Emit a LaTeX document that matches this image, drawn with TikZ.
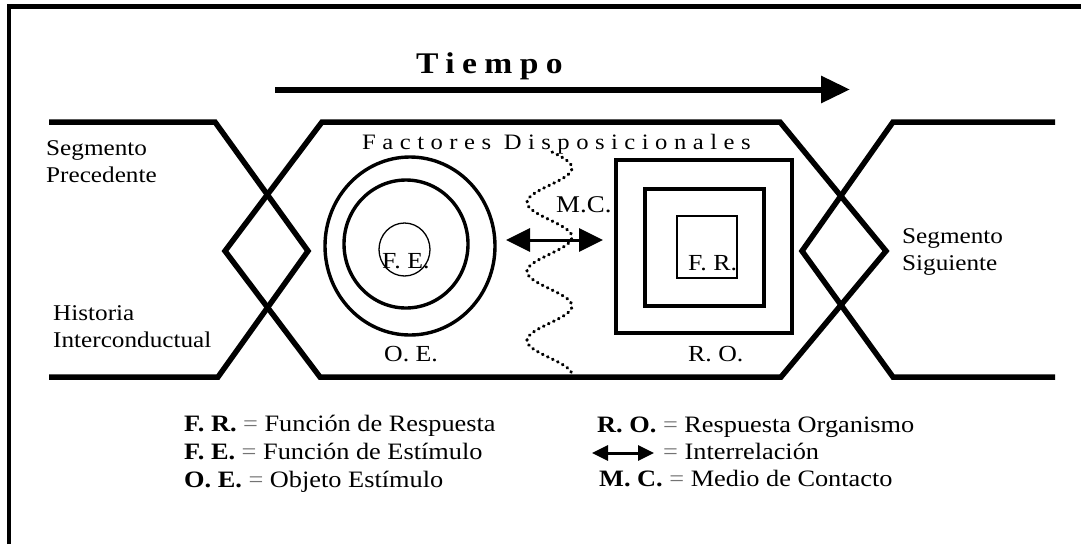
\documentclass[tikz,border=0pt]{standalone}
\usepackage{fontspec}
\setmainfont{Liberation Serif}[FakeStretch=1.12]
\newfontfamily\tiempofont{Liberation Serif}[FakeStretch=1.12,LetterSpace=24.7]
\newfontfamily\factfont{Liberation Serif}[FakeStretch=1.12,LetterSpace=29.5]
\usetikzlibrary{arrows.meta,shapes.geometric}
\newcommand{\eqsign}{\textcolor{black!55}{=}}
\begin{document}
\begin{tikzpicture}[x=1pt,y=-1pt,
  band/.style={line width=5.5pt,line join=miter},
  thickring/.style={draw,ellipse,line width=3.4pt,inner sep=0pt},
  thinring/.style={draw,ellipse,line width=1.3pt,inner sep=0pt},
  thickbox/.style={draw,rectangle,line width=4pt,inner sep=0pt},
  thinbox/.style={draw,rectangle,line width=1.3pt,inner sep=0pt},
  lbl/.style={anchor=base west,inner sep=0pt,font=\fontsize{22.5}{27}\selectfont},
  inlbl/.style={anchor=base west,inner sep=0pt,font=\fontsize{23}{27}\selectfont},
  leg/.style={anchor=base west,inner sep=0pt,font=\fontsize{23.5}{28}\selectfont},
  wave/.style={line width=3.2pt,line cap=round,dash pattern=on 0.6pt off 5pt},
  bigtip/.style={-{Triangle[length=29pt,width=26pt]}},
  dbl/.style={{Triangle[length=24pt,width=23pt]}-{Triangle[length=24pt,width=23pt]}},
  smalldbl/.style={{Triangle[length=16pt,width=15pt]}-{Triangle[length=16pt,width=15pt]}}
]
\useasboundingbox (0,0) rectangle (1081,544);
\fill[white] (0,0) rectangle (1081,544);
% frame
\draw[line width=4.5pt] (9,544) -- (9,6.5) -- (1081,6.5);

% Tiempo
\node[anchor=base west,inner sep=0pt,font=\fontsize{30}{34}\selectfont\tiempofont\bfseries] (tiempo) at (416,73) {Tiempo};
\coordinate (ta) at (275,89.5);
\coordinate (tb) at (850,89.5);
\draw[line width=6pt,bigtip] (ta) -- (tb);

% bands
\draw[band] (49,122) -- (215,122) -- (308,251) -- (218,377) -- (49,377);
\draw[band] (322,122) -- (780,122) -- (886,251) -- (781,377) -- (320,377) -- (225,251) -- cycle;
\draw[band] (1055,122) -- (893,122) -- (802,251) -- (893,377) -- (1055,377);

% Factores Disposicionales
\node[anchor=base west,inner sep=0pt,font=\fontsize{22}{26}\selectfont\factfont] (fact) at (362,149) {Factores Disposicionales};

% side texts
\node[lbl] (sp1) at (46,155) {Segmento};
\node[lbl] (sp2) at (46,182) {Precedente};
\node[lbl] (hi1) at (53,320) {Historia};
\node[lbl] (hi2) at (53,347) {Interconductual};
\node[lbl] (ss1) at (902,243) {Segmento};
\node[lbl] (ss2) at (902,270) {Siguiente};

% stimulus object rings
\node[thickring,minimum width=170pt,minimum height=178pt] (oe) at (410,246) {};
\node[thickring,minimum width=124pt,minimum height=128pt] (oemid) at (406,244) {};
\node[thinring,minimum width=51pt,minimum height=53pt] (fe) at (404.5,249.5) {};
\node[inlbl] (felbl) at (382,268) {F. E.};
\node[inlbl] (oelbl) at (384,361) {O. E.};

% response organism boxes
\node[thickbox,minimum width=176pt,minimum height=173pt] (ro) at (704,246.5) {};
\node[thickbox,minimum width=119pt,minimum height=117pt] (romid) at (704.5,247.5) {};
\node[thinbox,minimum width=60pt,minimum height=62pt] (fr) at (707,247) {};
\node[inlbl] (frlbl) at (688,270) {F. R.};
\node[inlbl] (rolbl) at (688,361) {R. O.};

% medium of contact wave
\draw[wave] plot[domain=152:373,samples=120,smooth] ({549.5+22.5*cos(5.2174*(\x-168))},\x);
\node[anchor=base west,inner sep=0pt,font=\fontsize{24}{28}\selectfont] (mc) at (556,212) {M.C.};

% interrelation arrow
\coordinate (ia) at (506,240);
\coordinate (ib) at (603,240);
\draw[line width=3pt,dbl] (ia) -- (ib);

% legend
\node[leg] (l1) at (184,431) {\textbf{F. R.} \eqsign{} Función de Respuesta};
\node[leg] (l2) at (184,459) {\textbf{F. E.} \eqsign{} Función de Estímulo};
\node[leg] (l3) at (184,487) {\textbf{O. E.} \eqsign{} Objeto Estímulo};
\node[leg] (r1) at (597,432) {\textbf{R. O.} \eqsign{} Respuesta Organismo};
\coordinate (la) at (592,453);
\coordinate (lb) at (654,453);
\draw[line width=3pt,smalldbl] (la) -- (lb);
\node[leg] (r2) at (663,459) {\eqsign{} Interrelación};
\node[leg] (r3) at (599,486) {\textbf{M. C.} \eqsign{} Medio de Contacto};
\end{tikzpicture}
\end{document}
